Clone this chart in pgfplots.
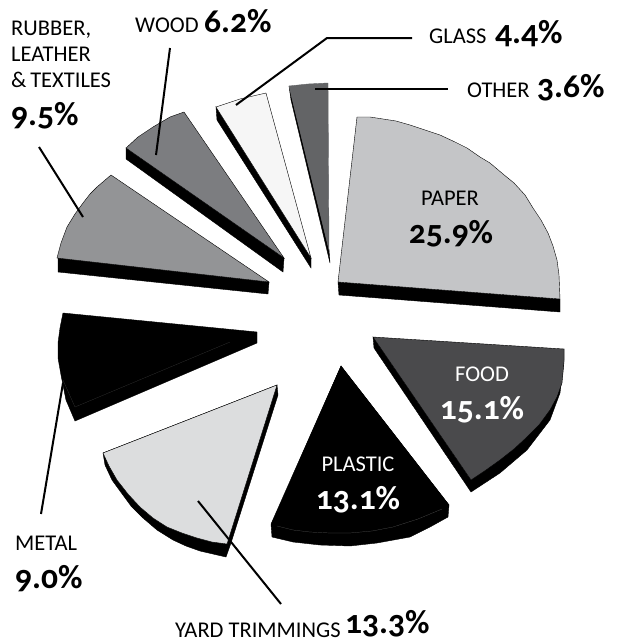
\documentclass[border=0pt]{standalone}
\usepackage{pgfplots}
\pgfplotsset{compat=1.18}
\usepackage{fontspec}
\setmainfont[Numbers=OldStyle]{Carlito}
\definecolor{cpaper}{HTML}{C4C5C7}
\definecolor{cfood}{HTML}{4A4A4C}
\definecolor{cyard}{HTML}{DCDDDE}
\definecolor{crub}{HTML}{939496}
\definecolor{cwood}{HTML}{7C7D80}
\definecolor{cglass}{HTML}{F6F6F6}
\definecolor{cother}{HTML}{636466}
\newcommand{\lab}[1]{\fontsize{22.5}{22.5}\selectfont #1}
\newcommand{\val}[1]{\fontsize{33.5}{33.5}\selectfont\bfseries #1}
\begin{document}
\begin{tikzpicture}
\path[use as bounding box] (0,0) rectangle (618pt,643pt);
\begin{axis}[at={(0,0)},anchor=south west,scale only axis,width=618pt,height=643pt,
  xmin=0,xmax=618,ymin=0,ymax=643,y dir=reverse,hide axis,clip=false,
  every axis plot/.append style={line join=miter}]
% extrusions
\addplot[fill=black,draw=black,thin] coordinates {(338,282)(339,295)(560,312)(560,299)} -- cycle;
\addplot[fill=black,draw=black,thin] coordinates {(373,337)(374,348)(471,492)(500,473)(527,450)(550,420)(560,393)(564,360)(564,349)(471,480)} -- cycle;
\addplot[fill=black,draw=black,thin] coordinates {(341,366)(449,505)(448,517)(430,527)(410,537)(377,543)(350,546)(320,545)(293,542)(272,537)(271,524)} -- cycle;
\addplot[fill=black,draw=black,thin] coordinates {(103,453)(105,465)(112,480)(120,491)(131,506)(143,518)(157,530)(173,540)(186,546)(200,551)(226,557)(231,543)(278,395)(277,385)} -- cycle;
\addplot[fill=black,draw=black,thin] coordinates {(58,258)(58,272)(268,294)(269,282)} -- cycle;
\addplot[fill=black,draw=black,thin] coordinates {(126,148)(126,159)(283,272)(284,258)} -- cycle;
\addplot[fill=black,draw=black,thin] coordinates {(216,107)(217,120)(311,268)(311,258)} -- cycle;
\addplot[fill=black,draw=black,thin] coordinates {(289,86)(291,100)(330,263)(329,250)} -- cycle;
% faces
\addplot[fill=cpaper,draw=black,thin] coordinates {(357,117)(370,117)(383,119)(396,121)(410,125)(425,130)(440,135)(455,142)(467,148)(480,157)(490,163)(503,174)(514,183)(525,195)(533,208)(541,220)(548,233)(553,246)(557,260)(559,275)(560,299)(338,282)} -- cycle;
\addplot[fill=cfood,draw=black,thin] coordinates {(373,337)(564,349)(564,362)(562,383)(557,397)(550,410)(539,425)(527,437)(514,449)(500,460)(486,470)(471,480)} -- cycle;
\addplot[fill=black,draw=black,thin] coordinates {(341,366)(449,505)(442,509)(418,519)(393,527)(372,531)(350,533)(330,533)(310,532)(293,530)(272,524)} -- cycle;
\addplot[fill=cyard,draw=black,thin] coordinates {(277,385)(103,453)(109,466)(117,480)(128,494)(140,507)(153,518)(167,527)(182,533)(197,538)(212,542)(227,544)} -- cycle;
\addplot[fill=black,draw=black,thin] coordinates {(63,313)(257,332)(257,343)(75,421)(66,400)(61,375)(58,358)(58,343)(60,328)} -- cycle;
\addplot[fill=crub,draw=black,thin] coordinates {(111,175)(269,282)(57,258)(61,243)(67,227)(75,214)(83,203)(90,194)(97,187)} -- cycle;
\addplot[fill=cwood,draw=black,thin] coordinates {(126,148)(138,137)(153,127)(170,117)(184,112)(284,258)} -- cycle;
\addplot[fill=cglass,draw=black,thin] coordinates {(216,107)(240,99)(266,93)(311,258)} -- cycle;
\addplot[fill=cother,draw=cother,thin] coordinates {(289,86)(308,84)(328,83)(329,250)} -- cycle;
% faint inner edges
\addplot[draw=gray!45!black,line width=0.2pt] coordinates {(230,342)(75,407)(63,380)};
\addplot[draw=gray!70!black,line width=0.2pt] coordinates {(442,509)(418,519)(393,527)(372,531)(350,533)(330,533)(310,532)(293,530)(277,526)};
% leader lines
\addplot[black,line width=2pt] coordinates {(39,147)(83,217)};
\addplot[black,line width=2pt] coordinates {(170,48)(156,155)};
\addplot[black,line width=2pt] coordinates {(236,105)(327,38)(412,38)};
\addplot[black,line width=2pt] coordinates {(315,89)(448,89)};
\addplot[black,line width=2pt] coordinates {(63,383)(41,514)};
\addplot[black,line width=2pt] coordinates {(198,501)(281,604)};
% labels
\node[anchor=base west,inner sep=0] at (axis cs:11,35) {\lab{RUBBER,}};
\node[anchor=base west,inner sep=0] at (axis cs:11,61) {\lab{LEATHER}};
\node[anchor=base west,inner sep=0] at (axis cs:11,87) {\lab{\&\,TEXTILES}};
\node[anchor=base west,inner sep=0] at (axis cs:11,125) {\val{9.5\%}};
\node[anchor=base west,inner sep=0] at (axis cs:135,32) {\lab{WOOD}};
\node[anchor=base west,inner sep=0] at (axis cs:204,32) {\val{6.2\%}};
\node[anchor=base west,inner sep=0] at (axis cs:429,43) {\lab{GLASS}};
\node[anchor=base west,inner sep=0] at (axis cs:495,43) {\val{4.4\%}};
\node[anchor=base west,inner sep=0] at (axis cs:467,97) {\lab{OTHER}};
\node[anchor=base west,inner sep=0] at (axis cs:537,97) {\val{3.6\%}};
\node[anchor=base,inner sep=0] at (axis cs:450,205) {\lab{PAPER}};
\node[anchor=base,inner sep=0] at (axis cs:451,243) {\val{25.9\%}};
\node[anchor=base,inner sep=0,text=white] at (axis cs:482,381) {\lab{FOOD}};
\node[anchor=base,inner sep=0,text=white] at (axis cs:482,419) {\val{15.1\%}};
\node[anchor=base,inner sep=0,text=white] at (axis cs:358,471) {\lab{PLASTIC}};
\node[anchor=base,inner sep=0,text=white] at (axis cs:358,509) {\val{13.1\%}};
\node[anchor=base west,inner sep=0] at (axis cs:15,550) {\lab{METAL}};
\node[anchor=base west,inner sep=0] at (axis cs:15,588) {\val{9.0\%}};
\node[anchor=base west,inner sep=0] at (axis cs:175,637) {\lab{YARD TRIMMINGS}};
\node[anchor=base west,inner sep=0] at (axis cs:345,633) {\val{13.3\%}};
\end{axis}
\end{tikzpicture}
\end{document}
